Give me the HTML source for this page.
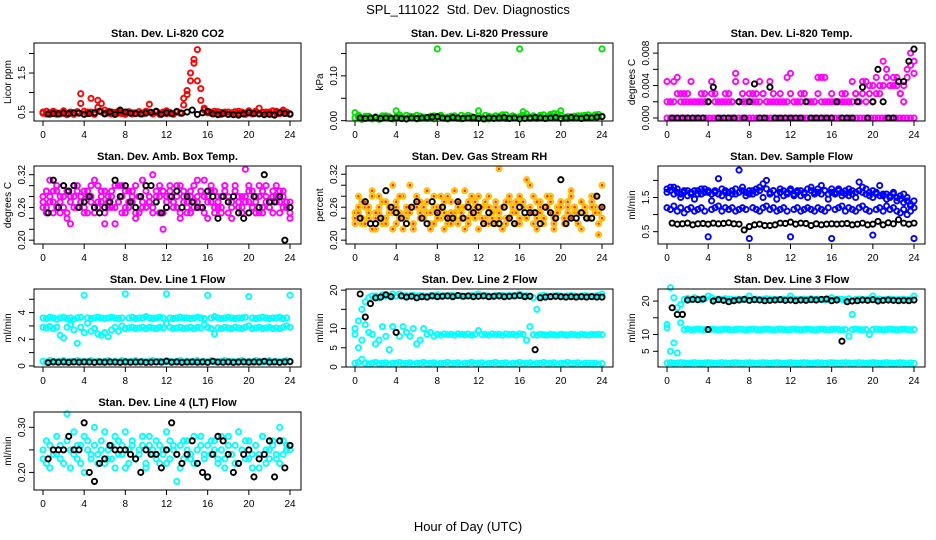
<!DOCTYPE html>
<html><head><meta charset="utf-8"><style>
html,body{margin:0;padding:0;background:#fff;}
svg{display:block;font-family:"Liberation Sans",sans-serif;}
</style></head><body>
<svg id="c" width="936" height="540" viewBox="0 0 936 540">
<rect width="936" height="540" fill="#fff"/>
<text x="468" y="14" text-anchor="middle" font-size="13">SPL_111022&#160;&#160;Std. Dev. Diagnostics</text>
<text x="468" y="531" text-anchor="middle" font-size="13">Hour of Day (UTC)</text>
</svg>
<script>
const xTicks=[0,4,8,12,16,20,24];
// CO2
const co2Red=[0.5,0.45,0.48,0.52,0.44,0.47,0.5,0.43,0.49,0.46,0.51,0.97,0.45,0.5,0.85,0.48,0.8,0.72,0.55,0.47,0.5,0.44,0.52,0.46,0.49,0.5,0.45,0.48,0.51,0.47,0.52,0.7,0.46,0.5,0.44,0.48,0.53,0.47,0.45,0.5,0.48,0.68,0.95,1.3,1.75,2.1,0.8,0.6,0.5,0.47,0.52,0.45,0.49,0.5,0.44,0.48,0.51,0.46,0.5,0.47,0.53,0.45,0.49,0.6,0.48,0.46,0.5,0.44,0.52,0.47,0.55,0.5,0.45];
const co2Red2=[0.47,0.52,0.44,0.5,0.48,0.45,0.53,0.47,0.5,0.44,0.49,0.72,0.52,0.46,0.5,0.44,0.62,0.5,0.47,0.52,0.45,0.49,0.47,0.5,0.44,0.51,0.48,0.46,0.5,0.45,0.48,0.5,0.45,0.52,0.47,0.5,0.46,0.49,0.44,0.52,0.47,0.85,1.05,1.5,1.85,1.3,1.1,0.55,0.48,0.5,0.46,0.51,0.44,0.48,0.5,0.47,0.45,0.52,0.48,0.44,0.5,0.47,0.52,0.46,0.49,0.5,0.45,0.53,0.48,0.46,0.5,0.47,0.44];
const co2Black=[0.45,0.46,0.45,0.47,0.46,0.48,0.47,0.44,0.46,0.48,0.52,0.45,0.5,0.44,0.55,0.5,0.47,0.46,0.45,0.47,0.49,0.52,0.44,0.48,0.46,0.51,0.47,0.5,0.55,0.44,0.48,0.52,0.45,0.43,0.46,0.44,0.43,0.42,0.45,0.48,0.46,0.45,0.43,0.44,0.42,0.48,0.46,0.45];
// Pressure (kPa)
const presGreen=[0.018,0.008,0.005,0.01,0.006,0.004,0.009,0.005,0.007,0.011,0.006,0.004,0.022,0.008,0.005,0.012,0.006,0.009,0.004,0.01,0.007,0.005,0.008,0.011,0.16,0.009,0.006,0.004,0.01,0.007,0.005,0.012,0.008,0.006,0.009,0.005,0.022,0.007,0.004,0.01,0.006,0.011,0.005,0.008,0.013,0.006,0.009,0.007,0.16,0.02,0.008,0.005,0.011,0.007,0.012,0.006,0.009,0.014,0.01,0.015,0.022,0.007,0.005,0.009,0.006,0.011,0.008,0.012,0.006,0.01,0.013,0.009,0.16];
const presGreen2=[0.006,0.012,0.003,0.008,0.01,0.005,0.007,0.003,0.011,0.006,0.009,0.004,0.008,0.013,0.006,0.004,0.01,0.007,0.012,0.005,0.008,0.006,0.01,0.004,0.009,0.012,0.005,0.008,0.006,0.011,0.007,0.004,0.009,0.012,0.005,0.007,0.01,0.006,0.012,0.004,0.008,0.006,0.01,0.013,0.005,0.008,0.011,0.006,0.009,0.012,0.015,0.007,0.01,0.005,0.008,0.013,0.006,0.011,0.016,0.008,0.012,0.005,0.009,0.007,0.01,0.006,0.011,0.008,0.013,0.007,0.012,0.014,0.01];
const presBlack=[0.006,0.005,0.006,0.007,0.005,0.006,0.005,0.006,0.005,0.004,0.006,0.005,0.006,0.007,0.008,0.009,0.006,0.005,0.007,0.006,0.005,0.006,0.007,0.005,0.004,0.006,0.005,0.006,0.007,0.005,0.006,0.004,0.005,0.006,0.007,0.006,0.005,0.006,0.007,0.005,0.006,0.007,0.006,0.005,0.007,0.006,0.008,0.009];
// Li-820 temp (degrees C)
const tempZero=[0,0,0,0,0,0,0,0,0,0,0,0,0,0,0,0,0,0,0,0,0,0,0,0,0,0,0,0,0,0,0,0,0,0,0,0,0,0,0,0,0,0,0,0,0,0,0,0,0,0,0,0,0,0,0,0,0,0,0,0,0,0,0,0,0,0,0,0,0,0];
const tempMag=[0.002,0.002,0.0045,0.005,0.003,0.002,0.003,0.002,0.002,0.002,0.002,0.003,0.002,0.0045,0.003,0.002,0.002,0.002,0.003,0.002,0.0055,0.002,0.002,0.0045,0.003,0.002,0.003,0.0045,0.003,0.002,0.0045,0.003,0.002,0.002,0.002,0.005,0.003,0.002,0.002,0.003,0.003,0.002,0.002,0.002,0.005,0.005,0.005,0.002,0.002,0.002,0.002,0.003,0.002,0.002,0.002,0.003,0.002,0.0045,0.002,0.004,0.002,0.003,0.004,0.007,0.005,0.004,0.004,0.005,0.003,0.004,0.006,0.008,0.0055];
const tempMag2=[0.0045,0.002,0.002,0.003,0.002,0.003,0.002,0.0045,0.002,0.002,0.003,0.002,0.002,0.003,0.002,0.002,0.002,0.003,0.002,0.002,0.0045,0.002,0.003,0.002,0.002,0.003,0.002,0.002,0.003,0.002,0.002,0.002,0.002,0.003,0.002,0.002,0.0055,0.002,0.002,0.002,0.003,0.002,0.002,0.002,0.003,0.002,0.002,0.002,0.003,0.002,0.002,0.002,0.003,0.002,0.0045,0.003,0.002,0.003,0.0045,0.003,0.004,0.005,0.003,0.004,0.006,0.004,0.005,0.004,0.003,0.002,0.005,0.0065,0.007];
const tempBlack=[0,0,0,0,0,0,0,0.002,0.0038,0,0,0,0,0.002,0,0.002,0.0042,0,0,0.0038,0,0,0,0,0,0,0.002,0,0,0,0,0,0.002,0,0,0,0.002,0.0038,0,0.002,0.006,0.002,0,0,0.0045,0.0045,0.007,0.0085];
// Amb box temp
const ambMag=[0.28,0.26,0.31,0.27,0.29,0.25,0.28,0.24,0.27,0.3,0.26,0.28,0.29,0.25,0.27,0.31,0.26,0.28,0.23,0.27,0.29,0.26,0.3,0.28,0.25,0.27,0.29,0.24,0.28,0.31,0.26,0.27,0.25,0.29,0.28,0.22,0.27,0.3,0.26,0.28,0.24,0.29,0.27,0.25,0.3,0.28,0.26,0.31,0.27,0.29,0.25,0.28,0.26,0.3,0.27,0.24,0.29,0.28,0.26,0.33,0.27,0.29,0.25,0.28,0.26,0.3,0.27,0.25,0.28,0.29,0.26,0.27,0.24];
const ambMag2=[0.26,0.29,0.27,0.25,0.3,0.28,0.26,0.29,0.23,0.28,0.3,0.27,0.26,0.29,0.28,0.25,0.3,0.27,0.29,0.26,0.28,0.23,0.27,0.3,0.26,0.29,0.27,0.25,0.28,0.26,0.3,0.27,0.32,0.28,0.25,0.29,0.26,0.28,0.27,0.3,0.25,0.28,0.26,0.29,0.27,0.31,0.26,0.28,0.24,0.27,0.29,0.26,0.28,0.3,0.25,0.27,0.29,0.26,0.28,0.27,0.3,0.26,0.28,0.25,0.29,0.27,0.26,0.28,0.3,0.27,0.29,0.26,0.25];
const ambMag3=[0.27,0.25,0.28,0.29,0.26,0.27,0.3,0.25,0.28,0.26,0.29,0.27,0.25,0.28,0.3,0.26,0.27,0.29,0.25,0.28,0.26,0.3,0.27,0.25,0.29,0.26,0.28,0.3,0.25,0.27,0.29,0.28,0.26,0.27,0.3,0.25,0.28,0.29,0.27,0.26,0.3,0.27,0.25,0.28,0.26,0.27,0.29,0.25,0.28,0.3,0.26,0.27,0.25,0.29,0.28,0.26,0.3,0.27,0.25,0.28,0.29,0.26,0.27,0.3,0.25,0.28,0.26,0.29,0.27,0.25,0.28,0.26,0.27];
const ambBlack=[0.25,0.31,0.26,0.3,0.29,0.3,0.26,0.27,0.28,0.26,0.25,0.26,0.27,0.31,0.28,0.3,0.27,0.26,0.28,0.3,0.3,0.27,0.25,0.26,0.28,0.29,0.26,0.28,0.27,0.26,0.26,0.29,0.28,0.24,0.28,0.27,0.28,0.25,0.24,0.25,0.28,0.26,0.32,0.27,0.27,0.28,0.2,0.26];
// Gas stream RH
const rhA=[0.25,0.28,0.23,0.26,0.24,0.29,0.22,0.25,0.27,0.24,0.26,0.3,0.23,0.25,0.28,0.24,0.26,0.22,0.27,0.25,0.24,0.29,0.23,0.26,0.25,0.28,0.22,0.24,0.27,0.25,0.23,0.26,0.29,0.24,0.25,0.27,0.22,0.26,0.24,0.28,0.25,0.23,0.33,0.26,0.24,0.27,0.25,0.23,0.28,0.26,0.24,0.3,0.25,0.22,0.27,0.24,0.26,0.28,0.23,0.25,0.27,0.24,0.26,0.29,0.25,0.23,0.27,0.25,0.24,0.28,0.26,0.21,0.3];
const rhB=[0.24,0.26,0.27,0.23,0.25,0.28,0.24,0.26,0.23,0.27,0.25,0.22,0.26,0.28,0.24,0.25,0.3,0.23,0.26,0.27,0.24,0.25,0.22,0.28,0.26,0.24,0.27,0.23,0.25,0.29,0.26,0.24,0.22,0.27,0.25,0.26,0.28,0.24,0.23,0.26,0.25,0.27,0.24,0.26,0.23,0.28,0.25,0.27,0.24,0.26,0.31,0.25,0.23,0.27,0.26,0.24,0.28,0.25,0.22,0.26,0.27,0.24,0.25,0.28,0.26,0.23,0.27,0.25,0.24,0.26,0.28,0.25,0.24];
const rhC=[0.23,0.25,0.24,0.27,0.26,0.22,0.25,0.28,0.24,0.23,0.26,0.25,0.27,0.24,0.22,0.26,0.25,0.23,0.28,0.24,0.26,0.27,0.25,0.23,0.24,0.26,0.25,0.28,0.23,0.24,0.27,0.25,0.26,0.23,0.28,0.24,0.25,0.26,0.27,0.23,0.24,0.26,0.25,0.22,0.27,0.24,0.26,0.25,0.23,0.27,0.24,0.26,0.28,0.24,0.25,0.23,0.26,0.27,0.24,0.25,0.26,0.23,0.27,0.24,0.26,0.25,0.22,0.26,0.24,0.27,0.25,0.23,0.26];
const rhBlack=[0.24,0.27,0.23,0.23,0.24,0.29,0.26,0.25,0.24,0.23,0.26,0.27,0.24,0.23,0.27,0.25,0.26,0.24,0.24,0.27,0.24,0.26,0.25,0.26,0.23,0.25,0.23,0.23,0.26,0.24,0.23,0.26,0.25,0.25,0.25,0.23,0.26,0.25,0.24,0.31,0.23,0.24,0.24,0.25,0.24,0.24,0.28,0.26];
// Sample flow
const sfHigh=[1.75,1.7,1.8,1.65,1.6,1.7,1.55,1.65,1.7,1.6,1.75,1.65,1.7,1.6,1.65,2.05,1.55,1.7,1.65,1.6,1.75,2.3,1.7,1.65,1.6,1.7,1.75,1.8,1.9,2.0,1.65,1.7,1.6,1.75,1.55,1.65,1.7,1.6,1.7,1.55,1.65,1.75,1.8,1.6,1.65,1.85,1.7,1.6,1.75,1.65,1.7,1.55,1.6,1.75,1.7,1.65,1.95,1.8,1.75,1.65,1.7,1.6,1.85,1.55,1.6,1.55,1.65,1.5,1.45,1.6,1.4,1.3,1.2];
const sfHigh2=[1.65,1.8,1.6,1.75,1.5,1.65,1.7,1.6,1.45,1.7,1.6,1.75,1.65,1.4,1.7,1.6,1.75,1.65,1.5,1.7,1.6,1.65,1.8,1.55,1.7,1.6,1.65,1.7,1.5,1.75,1.6,1.7,1.45,1.65,1.7,1.6,1.75,1.55,1.65,1.7,1.6,1.5,1.7,1.65,1.75,1.6,1.7,1.45,1.65,1.6,1.75,1.65,1.7,1.55,1.6,1.5,1.7,1.65,1.6,1.55,1.5,1.65,1.55,1.6,1.45,1.5,1.6,1.4,1.55,1.35,1.5,1.25,1.4];
const sfLow=[1.2,1.15,1.25,1.1,1.2,1.05,1.15,1.2,1.1,1.15,1.2,1.1,0.35,1.15,1.2,1.25,1.1,1.2,1.15,1.2,1.1,1.15,1.2,1.15,0.3,1.2,1.15,1.1,1.2,1.25,1.15,1.2,1.1,1.15,1.2,1.1,0.35,1.15,1.2,1.1,1.15,1.2,1.15,1.1,1.2,1.15,1.1,1.2,0.3,1.15,1.2,1.25,1.1,1.2,1.15,1.1,1.2,1.25,1.15,1.1,0.4,1.15,1.2,1.1,1.25,1.15,1.2,1.1,1.05,1.15,1.0,1.1,0.3];
const sfBlack=[0.75,0.72,0.73,0.75,0.7,0.73,0.74,0.72,0.75,0.73,0.74,0.76,0.73,0.72,0.55,0.65,0.7,0.72,0.68,0.68,0.7,0.75,0.74,0.78,0.72,0.75,0.74,0.68,0.73,0.7,0.72,0.73,0.72,0.73,0.74,0.7,0.72,0.75,0.7,0.72,0.8,0.7,0.76,0.73,0.85,0.75,0.72,0.75];
// Line 1 flow
const l1High=[3.6,3.55,3.65,3.6,3.5,3.6,3.65,3.55,3.6,3.5,3.6,3.65,5.3,3.6,3.55,3.6,3.65,3.6,3.55,3.6,3.65,3.6,3.55,3.6,5.4,3.6,3.65,3.55,3.6,3.6,3.7,3.6,3.55,3.6,3.65,3.6,5.4,3.6,3.55,3.6,3.65,3.6,3.6,3.55,3.6,3.65,3.6,3.55,5.3,3.6,3.7,3.6,3.55,3.6,3.65,3.6,3.55,3.6,3.6,3.65,5.2,3.6,3.55,3.6,3.65,3.6,3.55,3.6,3.6,3.65,3.55,3.6,5.3];
const l1Mid=[2.9,2.85,2.95,2.8,2.9,2.3,2.1,2.9,3.1,2.7,1.7,2.9,2.5,3.2,2.6,2.8,2.4,2.3,2.5,2.2,2.7,2.9,2.6,3.0,2.8,2.85,2.9,2.8,2.85,2.9,2.8,2.9,2.85,2.8,2.9,2.85,3.2,2.9,2.8,2.85,2.9,2.8,2.85,2.9,2.8,2.9,2.85,3.1,2.9,2.8,2.4,2.85,2.8,2.9,2.85,2.8,2.9,2.85,2.8,2.9,3.0,2.8,2.85,2.9,2.8,2.85,2.9,2.8,2.85,2.8,2.9,3.0,2.9];
const l1Low=[0.35,0.3,0.4,0.35,0.3,0.35,0.4,0.3,0.35,0.3,0.4,0.35,0.3,0.35,0.4,0.3,0.35,0.3,0.35,0.4,0.3,0.35,0.3,0.4,0.35,0.3,0.35,0.4,0.3,0.35,0.3,0.35,0.4,0.3,0.35,0.3,0.4,0.35,0.3,0.35,0.4,0.3,0.35,0.3,0.35,0.4,0.3,0.35,0.3,0.4,0.35,0.3,0.35,0.4,0.3,0.35,0.3,0.35,0.4,0.3,0.35,0.3,0.4,0.35,0.3,0.35,0.4,0.3,0.35,0.3,0.35,0.4,0.35];
const l1Black=[0.25,0.3,0.28,0.3,0.27,0.3,0.28,0.3,0.29,0.27,0.3,0.28,0.3,0.29,0.27,0.3,0.28,0.29,0.3,0.27,0.28,0.3,0.29,0.35,0.28,0.3,0.27,0.29,0.3,0.28,0.3,0.27,0.35,0.29,0.28,0.3,0.27,0.29,0.3,0.28,0.3,0.29,0.35,0.28,0.3,0.27,0.3,0.32];
// Line 2 flow
const l2High=[10,12,15,17,18,18.5,18.5,18,18.8,18.5,18.6,19,18.5,19,18.5,18.6,18.5,18.7,18.5,18.6,18.5,18.4,18.6,18.5,18.8,18.5,18.6,18.5,18.7,18.5,18.6,18.5,18.4,18.5,18.6,18.7,19,18.5,18.6,18.5,18.4,18.6,18.5,18.7,18.5,18.6,18.5,18.6,19,18.5,18.6,18.4,18,15,18.5,18.6,18.5,18.4,18.5,18.6,18.5,18.4,18.5,18.6,18.5,18.4,18.5,18.6,18.5,18.4,18.5,18.6,19];
const l2Mid=[8.5,5,7,11,9,8.5,6,7,10.5,8,4.5,10.5,9,8,10.5,9,8,10,6,7,10,8.5,9,8,8.5,8.3,8.6,8.4,8.5,8.3,8.6,8.5,8.4,8.6,8.3,8.5,9.5,8.4,8.5,8.3,8.6,8.4,8.5,8.3,8.6,8.4,8.5,8.3,8.6,8.5,7,10.5,8.4,8.3,8.5,8.4,8.3,8.5,8.4,8.3,8.5,8.4,8.3,8.5,8.4,8.3,8.5,8.4,8.3,8.5,8.4,8.5,8.4];
const l2Low=[1,1.2,2,1,0.8,1,1.2,0.9,1,1.1,0.8,1,1,1.2,0.9,1,1.1,0.8,1,1,1.2,0.9,1,1.1,0.8,1,1,1.2,0.9,1,1.1,0.8,1,1,1.2,0.9,1,1.1,0.8,1,1,1.2,0.9,1,1.1,0.8,1,1,1.2,0.9,1,1.1,0.8,1,1,1.2,0.9,1,1.1,0.8,1,1,1.2,0.9,1,1.1,0.8,1,1,0.9,1,0.8,0.9];
const l2Black=[19,13,16.5,18,18.2,18.8,18.3,9,18.5,18.2,18.4,18,18.3,18.2,18.5,18.3,18.4,18.5,18.3,18.6,18.4,18.5,18.3,18.4,18.5,18.3,18.4,18.5,18.3,18.4,18.5,18.6,18.3,18.4,4.5,18,18.2,18.3,18.4,18.3,18.2,18.3,18.2,18.3,18.2,18.3,18.2,18.2];
// Line 3 flow
const l3High=[12,24,21,18,19,20.5,20.8,20.5,21,20.6,20.5,20.7,21.5,21,20.5,20.6,20.5,20.7,20.6,20.5,20.4,20.6,20.5,20.7,21.5,20.5,20.6,20.4,20.5,20.7,20.6,20.5,20.4,20.5,20.6,20.5,21.5,20.6,20.5,20.4,20.6,20.5,20.7,20.5,20.6,20.5,20.4,20.6,21,20.5,20.6,20.5,20.4,20.7,16,20.5,20.6,20.5,20.4,20.6,21.5,20.5,20.6,20.4,20.5,20.6,20.5,20.4,20.5,20.6,20.4,20.5,21.5];
const l3Mid=[13,5,7.5,4.5,13.5,11.5,11.6,11.4,11.5,11.6,11.5,11.4,11.5,11.6,11.5,11.4,11.5,11.6,11.5,11.4,11.5,11.6,11.5,11.4,11.5,11.6,11.5,11.4,11.5,11.6,11.5,11.4,11.5,11.6,11.5,11.4,11.5,11.6,11.5,11.4,11.5,11.6,11.5,11.4,11.5,11.6,11.5,11.4,11.5,11.6,11.5,11.4,11.5,9.5,11.5,11.6,11.5,11.4,11.5,10,11.5,11.6,11.5,11.4,11.5,11.6,11.5,11.4,11.5,11.6,11.5,11.4,11.5];
const l3Low=[1.5,1.6,1.4,1.5,1.6,1.5,1.4,1.5,1.6,1.5,1.4,1.5,1.6,1.5,1.4,1.5,1.6,1.5,1.4,1.5,1.6,1.5,1.4,1.5,1.6,1.5,1.4,1.5,1.6,1.5,1.4,1.5,1.6,1.5,1.4,1.5,1.6,1.5,1.4,1.5,1.6,1.5,1.4,1.5,1.6,1.5,1.4,1.5,1.6,1.5,1.4,1.5,1.6,1.5,1.4,1.5,1.6,1.5,1.4,1.5,1.6,1.5,1.4,1.5,1.6,1.5,1.4,1.5,1.6,1.5,1.3,1.5,1.4];
const l3Black=[18,16,16,20.3,20.5,20.4,20.6,11.5,20,20.4,20.2,19.8,20.1,20.3,20.5,20.2,20.4,20.3,20.1,20.2,20.3,20.4,20.2,20.3,20.1,20.3,20.2,20.4,20.3,20.5,20.6,20.1,20.3,8,19.8,20,20.1,20.3,20.2,20.4,20,20.2,20.3,20.2,20.1,20.2,20.1,20.3];
// Line 4 (LT) flow
const l4A=[0.23,0.27,0.21,0.25,0.24,0.26,0.22,0.33,0.25,0.29,0.23,0.26,0.2,0.27,0.24,0.3,0.22,0.25,0.29,0.23,0.26,0.21,0.27,0.24,0.29,0.22,0.26,0.23,0.25,0.28,0.21,0.26,0.24,0.27,0.22,0.25,0.29,0.23,0.26,0.24,0.21,0.27,0.25,0.23,0.28,0.22,0.26,0.24,0.19,0.27,0.25,0.23,0.28,0.21,0.26,0.24,0.22,0.29,0.25,0.23,0.27,0.21,0.26,0.24,0.28,0.22,0.25,0.27,0.23,0.3,0.24,0.26,0.25];
const l4B=[0.25,0.22,0.26,0.24,0.28,0.23,0.25,0.27,0.21,0.24,0.26,0.22,0.28,0.25,0.23,0.26,0.24,0.27,0.22,0.25,0.23,0.28,0.24,0.26,0.21,0.25,0.27,0.23,0.24,0.26,0.22,0.28,0.25,0.23,0.26,0.24,0.22,0.27,0.25,0.18,0.26,0.23,0.27,0.24,0.22,0.25,0.28,0.23,0.26,0.24,0.27,0.22,0.25,0.23,0.28,0.24,0.26,0.22,0.25,0.27,0.23,0.24,0.26,0.21,0.28,0.25,0.23,0.26,0.24,0.22,0.27,0.25,0.26];
const l4Black=[0.23,0.25,0.25,0.25,0.28,0.25,0.25,0.31,0.2,0.18,0.22,0.23,0.26,0.25,0.25,0.25,0.24,0.23,0.2,0.25,0.24,0.24,0.21,0.25,0.31,0.24,0.22,0.24,0.27,0.22,0.2,0.19,0.24,0.28,0.27,0.24,0.2,0.22,0.24,0.25,0.19,0.23,0.24,0.27,0.19,0.27,0.21,0.26];

const panels=[
 {col:0,row:0,title:"Stan. Dev. Li-820 CO2",ylab:"Licor ppm",ymin:0.27,ymax:2.27,ticks:[0.5,1,1.5,2],labels:["0.5","","1.5",""],series:[[co2Red,"#ff0000"],[co2Red2,"#ff0000"],[co2Black,"#000"]]},
 {col:1,row:0,title:"Stan. Dev. Li-820 Pressure",ylab:"kPa",ymin:-0.0007,ymax:0.1733,ticks:[0,0.05,0.1,0.15],labels:["0.00","","0.10",""],series:[[presGreen,"#00e000"],[presGreen2,"#00e000"],[presBlack,"#000"]]},
 {col:2,row:0,title:"Stan. Dev. Li-820 Temp.",ylab:"degrees C",ymin:-0.00037,ymax:0.00925,ticks:[0,0.002,0.004,0.006,0.008],labels:["0.000","","0.004","","0.008"],series:[[tempZero,"#ff00ff"],[tempMag,"#ff00ff"],[tempMag2,"#ff00ff"],[tempBlack,"#000"]]},
 {col:0,row:1,title:"Stan. Dev. Amb. Box Temp.",ylab:"degrees C",ymin:0.193,ymax:0.336,ticks:[0.2,0.22,0.24,0.26,0.28,0.3,0.32],labels:["0.20","","","0.26","","","0.32"],series:[[ambMag,"#ff00ff"],[ambMag2,"#ff00ff"],[ambMag3,"#ff00ff"],[ambBlack,"#000"]]},
 {col:1,row:1,title:"Stan. Dev. Gas Stream RH",ylab:"percent",ymin:0.193,ymax:0.335,ticks:[0.2,0.22,0.24,0.26,0.28,0.3,0.32],labels:["0.20","","","0.26","","","0.32"],series:[[rhA,"rh"],[rhB,"rh"],[rhC,"rh"],[rhBlack,"#000"]]},
 {col:2,row:1,title:"Stan. Dev. Sample Flow",ylab:"ml/min",ymin:0.14,ymax:2.42,ticks:[0.5,1,1.5,2],labels:["0.5","","1.5",""],series:[[sfHigh,"#0000ff"],[sfHigh2,"#0000ff"],[sfLow,"#0000ff"],[sfBlack,"#000"]]},
 {col:0,row:2,title:"Stan. Dev. Line 1 Flow",ylab:"ml/min",ymin:-0.08,ymax:5.77,ticks:[0,1,2,3,4,5],labels:["0","","2","","4",""],series:[[l1High,"#00ffff"],[l1Mid,"#00ffff"],[l1Low,"#00ffff"],[l1Black,"#000"]]},
 {col:1,row:2,title:"Stan. Dev. Line 2 Flow",ylab:"ml/min",ymin:0,ymax:20.3,ticks:[0,5,10,15,20],labels:["0","5","10","","20"],series:[[l2High,"#00ffff"],[l2Mid,"#00ffff"],[l2Low,"#00ffff"],[l2Black,"#000"]]},
 {col:2,row:2,title:"Stan. Dev. Line 3 Flow",ylab:"ml/min",ymin:0.3,ymax:23.6,ticks:[5,10,15,20],labels:["5","10","","20"],series:[[l3High,"#00ffff"],[l3Mid,"#00ffff"],[l3Low,"#00ffff"],[l3Black,"#000"]]},
 {col:0,row:3,title:"Stan. Dev. Line 4 (LT) Flow",ylab:"ml/min",ymin:0.161,ymax:0.334,ticks:[0.2,0.25,0.3],labels:["0.20","","0.30"],series:[[l4A,"#00ffff"],[l4B,"#00ffff"],[l4Black,"#000"]]}
];

const NS="http://www.w3.org/2000/svg";
const svg=document.getElementById('c');
function mk(tag,attrs,parent){const e=document.createElementNS(NS,tag);for(const k in attrs)e.setAttribute(k,attrs[k]);(parent||svg).appendChild(e);return e;}

panels.forEach((p,pi)=>{
 const bx=34+312*p.col, bw=267, by=43+123*p.row, bh=78;
 const x0=bx+9, x1=bx+256;
 const xs=h=>x0+(h/24)*(x1-x0);
 const ys=v=>by+bh-(v-p.ymin)/(p.ymax-p.ymin)*bh;
 const g=mk('g',{});
 
 
 const t=mk('text',{x:bx+bw/2,y:by-6,'text-anchor':'middle','font-size':'11','font-weight':'bold'},g);
 t.textContent=p.title;
 
 
 const pts=mk('g',{fill:'none','stroke-width':'1.9'},g);
 
 
 p.series.forEach(([arr,col])=>{
  const black=col==="#000";
  const n=arr.length;
  arr.forEach((v,i)=>{
   const h=black?0.5+i*23.5/(n-1):i*24/(n-1);
   const cx=xs(h), cy=ys(v);
   if(col==="rh"){
    const c=mk('circle',{cx:cx,cy:cy,r:2.6,stroke:'#ffc000'},pts);
    
    
    const d=mk('circle',{cx:cx,cy:cy,r:1.3,fill:'#ff3000',stroke:'none'},pts);
    
    
   } else {
    const c=mk('circle',{cx:cx,cy:cy,r:2.6,stroke:col},pts);
    
    
   }
  });
 });
 const box=mk('rect',{x:bx,y:by,width:bw,height:bh,fill:'none',stroke:'#000','stroke-width':'1'},g);
 
 
 const xa=mk('g',{stroke:'#000','stroke-width':'1'},g);
 
 
 xTicks.forEach(tv=>{
  mk('line',{x1:xs(tv),x2:xs(tv),y1:by+bh,y2:by+bh+5},xa);
  const tl=mk('text',{x:xs(tv),y:by+bh+17,'text-anchor':'middle','font-size':'10',stroke:'none',fill:'#000'},xa);
  tl.textContent=tv;
  
  
 });
 const ya=mk('g',{stroke:'#000','stroke-width':'1'},g);
 
 
 p.ticks.forEach((tv,i)=>{
  const y=ys(tv);
  mk('line',{x1:bx-5,x2:bx,y1:y,y2:y},ya);
  if(p.labels[i]){
   const tl=mk('text',{x:bx-9,y:y,'text-anchor':'middle','font-size':'10',stroke:'none',fill:'#000',transform:`rotate(-90 ${bx-9} ${y})`},ya);
   tl.textContent=p.labels[i];
   
   
  }
 });
 const yl=mk('text',{x:bx-23,y:by+bh/2,'text-anchor':'middle','font-size':'10',transform:`rotate(-90 ${bx-23} ${by+bh/2})`},g);
 yl.textContent=p.ylab;
 
 
});
</script>
</body></html>
